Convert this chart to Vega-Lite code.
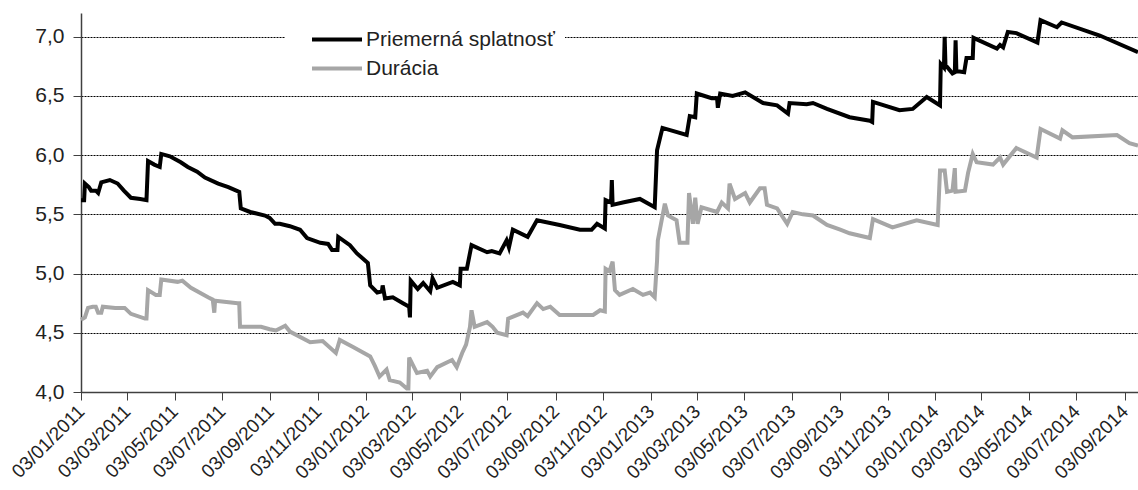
{
  "$schema": "https://vega.github.io/schema/vega-lite/v6.json",
  "width": 1057,
  "height": 379,
  "autosize": {"type": "none"},
  "padding": {"left": 81, "top": 13, "right": 0, "bottom": 98},
  "background": "white",
  "config": {
    "view": {"stroke": null},
    "font": "Liberation Sans",
    "axis": {"labelFont": "Liberation Sans", "labelColor": "#222222"},
    "legend": {"labelFont": "Liberation Sans"}
  },
  "datasets": {
    "ps": [
      {"d":"2011-01-03","v":5.62},{"d":"2011-01-07","v":5.62},{"d":"2011-01-08","v":5.76},{"d":"2011-01-13","v":5.73},
      {"d":"2011-01-16","v":5.70},{"d":"2011-01-22","v":5.70},{"d":"2011-01-25","v":5.68},{"d":"2011-01-29","v":5.77},
      {"d":"2011-02-09","v":5.79},{"d":"2011-02-19","v":5.76},{"d":"2011-02-27","v":5.70},{"d":"2011-03-08","v":5.64},
      {"d":"2011-03-20","v":5.63},{"d":"2011-03-28","v":5.62},{"d":"2011-03-30","v":5.95},{"d":"2011-04-07","v":5.92},
      {"d":"2011-04-14","v":5.90},{"d":"2011-04-16","v":6.01},{"d":"2011-04-27","v":5.99},{"d":"2011-05-11","v":5.94},
      {"d":"2011-05-20","v":5.90},{"d":"2011-06-01","v":5.86},{"d":"2011-06-11","v":5.81},{"d":"2011-06-28","v":5.76},
      {"d":"2011-07-11","v":5.73},{"d":"2011-07-25","v":5.69},{"d":"2011-07-27","v":5.55},{"d":"2011-08-08","v":5.52},
      {"d":"2011-08-27","v":5.49},{"d":"2011-09-02","v":5.47},{"d":"2011-09-09","v":5.42},{"d":"2011-09-15","v":5.42},
      {"d":"2011-09-28","v":5.40},{"d":"2011-10-11","v":5.37},{"d":"2011-10-20","v":5.30},{"d":"2011-11-06","v":5.26},
      {"d":"2011-11-16","v":5.25},{"d":"2011-11-21","v":5.20},{"d":"2011-11-28","v":5.20},{"d":"2011-11-29","v":5.31},
      {"d":"2011-12-14","v":5.24},{"d":"2011-12-23","v":5.17},{"d":"2012-01-06","v":5.09},{"d":"2012-01-09","v":4.90},
      {"d":"2012-01-18","v":4.84},{"d":"2012-01-24","v":4.85},{"d":"2012-01-25","v":4.90},{"d":"2012-01-28","v":4.79},
      {"d":"2012-02-07","v":4.80},{"d":"2012-02-20","v":4.75},{"d":"2012-02-28","v":4.72},{"d":"2012-02-29","v":4.63},
      {"d":"2012-03-01","v":4.94},{"d":"2012-03-10","v":4.87},{"d":"2012-03-17","v":4.92},{"d":"2012-03-26","v":4.85},
      {"d":"2012-03-29","v":4.96},{"d":"2012-04-04","v":4.88},{"d":"2012-04-24","v":4.93},{"d":"2012-05-03","v":4.90},
      {"d":"2012-05-04","v":5.04},{"d":"2012-05-12","v":5.04},{"d":"2012-05-18","v":5.24},{"d":"2012-06-07","v":5.18},
      {"d":"2012-06-13","v":5.19},{"d":"2012-06-23","v":5.17},{"d":"2012-07-02","v":5.28},{"d":"2012-07-05","v":5.22},
      {"d":"2012-07-10","v":5.37},{"d":"2012-07-29","v":5.31},{"d":"2012-08-10","v":5.45},{"d":"2012-09-08","v":5.41},
      {"d":"2012-10-04","v":5.37},{"d":"2012-10-19","v":5.37},{"d":"2012-10-26","v":5.42},{"d":"2012-11-05","v":5.38},
      {"d":"2012-11-06","v":5.62},{"d":"2012-11-13","v":5.60},{"d":"2012-11-14","v":5.79},{"d":"2012-11-15","v":5.58},
      {"d":"2012-11-28","v":5.60},{"d":"2012-12-20","v":5.63},{"d":"2013-01-08","v":5.56},{"d":"2013-01-11","v":6.04},
      {"d":"2013-01-15","v":6.15},{"d":"2013-01-18","v":6.23},{"d":"2013-02-18","v":6.17},{"d":"2013-02-22","v":6.33},
      {"d":"2013-03-01","v":6.32},{"d":"2013-03-03","v":6.52},{"d":"2013-03-22","v":6.48},{"d":"2013-03-29","v":6.48},
      {"d":"2013-03-30","v":6.40},{"d":"2013-04-02","v":6.52},{"d":"2013-04-18","v":6.50},{"d":"2013-05-04","v":6.53},
      {"d":"2013-05-27","v":6.44},{"d":"2013-06-14","v":6.42},{"d":"2013-06-28","v":6.35},{"d":"2013-06-30","v":6.44},
      {"d":"2013-07-22","v":6.43},{"d":"2013-07-30","v":6.44},{"d":"2013-08-17","v":6.39},{"d":"2013-09-15","v":6.32},
      {"d":"2013-10-11","v":6.29},{"d":"2013-10-14","v":6.28},{"d":"2013-10-15","v":6.45},{"d":"2013-11-18","v":6.38},
      {"d":"2013-12-05","v":6.39},{"d":"2013-12-23","v":6.49},{"d":"2014-01-09","v":6.42},{"d":"2014-01-10","v":6.77},
      {"d":"2014-01-14","v":6.74},{"d":"2014-01-15","v":7.00},{"d":"2014-01-16","v":6.76},{"d":"2014-01-25","v":6.69},
      {"d":"2014-01-28","v":6.70},{"d":"2014-01-29","v":6.97},{"d":"2014-01-30","v":6.71},{"d":"2014-02-09","v":6.70},
      {"d":"2014-02-12","v":6.82},{"d":"2014-02-20","v":6.82},{"d":"2014-02-21","v":6.99},{"d":"2014-03-23","v":6.90},
      {"d":"2014-03-27","v":6.93},{"d":"2014-03-31","v":6.91},{"d":"2014-04-06","v":7.04},{"d":"2014-04-17","v":7.03},
      {"d":"2014-05-14","v":6.95},{"d":"2014-05-18","v":7.14},{"d":"2014-06-08","v":7.08},{"d":"2014-06-14","v":7.12},
      {"d":"2014-08-02","v":7.01},{"d":"2014-09-20","v":6.87}
    ],
    "du": [
      {"d":"2011-01-03","v":4.61},{"d":"2011-01-08","v":4.63},{"d":"2011-01-12","v":4.71},{"d":"2011-01-18","v":4.72},
      {"d":"2011-01-22","v":4.72},{"d":"2011-01-25","v":4.67},{"d":"2011-01-29","v":4.67},{"d":"2011-01-31","v":4.72},
      {"d":"2011-02-16","v":4.71},{"d":"2011-02-28","v":4.71},{"d":"2011-03-08","v":4.66},{"d":"2011-03-26","v":4.62},
      {"d":"2011-03-28","v":4.62},{"d":"2011-03-30","v":4.86},{"d":"2011-04-09","v":4.82},{"d":"2011-04-14","v":4.82},
      {"d":"2011-04-16","v":4.95},{"d":"2011-05-07","v":4.93},{"d":"2011-05-13","v":4.94},{"d":"2011-05-24","v":4.88},
      {"d":"2011-06-15","v":4.80},{"d":"2011-06-21","v":4.78},{"d":"2011-06-23","v":4.67},{"d":"2011-06-24","v":4.77},
      {"d":"2011-07-23","v":4.75},{"d":"2011-07-25","v":4.75},{"d":"2011-07-26","v":4.55},{"d":"2011-08-22","v":4.55},
      {"d":"2011-09-02","v":4.53},{"d":"2011-09-10","v":4.52},{"d":"2011-09-22","v":4.56},{"d":"2011-09-28","v":4.51},
      {"d":"2011-10-24","v":4.42},{"d":"2011-11-09","v":4.43},{"d":"2011-11-26","v":4.33},{"d":"2011-12-01","v":4.44},
      {"d":"2011-12-18","v":4.38},{"d":"2012-01-09","v":4.30},{"d":"2012-01-15","v":4.22},{"d":"2012-01-21","v":4.13},
      {"d":"2012-01-30","v":4.19},{"d":"2012-02-03","v":4.10},{"d":"2012-02-16","v":4.08},{"d":"2012-02-25","v":4.03},
      {"d":"2012-02-27","v":4.03},{"d":"2012-02-28","v":4.29},{"d":"2012-03-09","v":4.16},{"d":"2012-03-22","v":4.18},
      {"d":"2012-03-26","v":4.13},{"d":"2012-04-04","v":4.21},{"d":"2012-04-23","v":4.27},{"d":"2012-04-29","v":4.21},
      {"d":"2012-05-06","v":4.33},{"d":"2012-05-11","v":4.40},{"d":"2012-05-16","v":4.55},{"d":"2012-05-18","v":4.69},
      {"d":"2012-05-22","v":4.55},{"d":"2012-06-07","v":4.59},{"d":"2012-06-14","v":4.55},{"d":"2012-06-20","v":4.50},
      {"d":"2012-07-02","v":4.48},{"d":"2012-07-04","v":4.62},{"d":"2012-07-23","v":4.67},{"d":"2012-07-29","v":4.64},
      {"d":"2012-08-10","v":4.75},{"d":"2012-08-18","v":4.70},{"d":"2012-08-27","v":4.72},{"d":"2012-09-08","v":4.65},
      {"d":"2012-10-21","v":4.65},{"d":"2012-10-30","v":4.69},{"d":"2012-11-05","v":4.68},{"d":"2012-11-06","v":5.04},
      {"d":"2012-11-11","v":5.02},{"d":"2012-11-15","v":5.10},{"d":"2012-11-18","v":4.86},{"d":"2012-11-24","v":4.82},
      {"d":"2012-12-11","v":4.87},{"d":"2012-12-24","v":4.82},{"d":"2013-01-02","v":4.84},{"d":"2013-01-08","v":4.80},
      {"d":"2013-01-11","v":5.11},{"d":"2013-01-12","v":5.28},{"d":"2013-01-21","v":5.59},{"d":"2013-01-25","v":5.49},
      {"d":"2013-02-05","v":5.45},{"d":"2013-02-09","v":5.26},{"d":"2013-02-19","v":5.26},{"d":"2013-02-21","v":5.68},
      {"d":"2013-02-26","v":5.42},{"d":"2013-03-01","v":5.64},{"d":"2013-03-04","v":5.42},{"d":"2013-03-09","v":5.56},
      {"d":"2013-03-29","v":5.52},{"d":"2013-04-04","v":5.60},{"d":"2013-04-12","v":5.55},{"d":"2013-04-14","v":5.76},
      {"d":"2013-04-21","v":5.63},{"d":"2013-05-04","v":5.68},{"d":"2013-05-10","v":5.60},{"d":"2013-05-23","v":5.72},
      {"d":"2013-05-29","v":5.72},{"d":"2013-06-01","v":5.58},{"d":"2013-06-14","v":5.55},{"d":"2013-06-27","v":5.42},
      {"d":"2013-07-04","v":5.52},{"d":"2013-07-17","v":5.50},{"d":"2013-07-30","v":5.49},{"d":"2013-08-17","v":5.41},
      {"d":"2013-09-03","v":5.37},{"d":"2013-09-15","v":5.34},{"d":"2013-10-11","v":5.30},{"d":"2013-10-15","v":5.46},
      {"d":"2013-11-09","v":5.39},{"d":"2013-12-10","v":5.45},{"d":"2014-01-06","v":5.41},{"d":"2014-01-09","v":5.87},
      {"d":"2014-01-15","v":5.87},{"d":"2014-01-18","v":5.69},{"d":"2014-01-25","v":5.70},{"d":"2014-01-28","v":5.89},
      {"d":"2014-01-29","v":5.69},{"d":"2014-02-10","v":5.70},{"d":"2014-02-14","v":5.85},{"d":"2014-02-20","v":6.01},
      {"d":"2014-02-25","v":5.94},{"d":"2014-03-18","v":5.92},{"d":"2014-03-27","v":5.98},{"d":"2014-03-31","v":5.92},
      {"d":"2014-04-17","v":6.06},{"d":"2014-05-13","v":5.98},{"d":"2014-05-18","v":6.22},{"d":"2014-06-12","v":6.14},
      {"d":"2014-06-15","v":6.21},{"d":"2014-06-28","v":6.15},{"d":"2014-08-24","v":6.17},{"d":"2014-09-09","v":6.10},
      {"d":"2014-09-20","v":6.08}
    ]
  },
  "encoding": {
    "x": {
      "field": "d", "type": "temporal",
      "scale": {"type": "utc", "domain": [{"year":2011,"month":1,"date":3,"utc":true},{"year":2014,"month":9,"date":20,"utc":true}]},
      "axis": {
        "title": null,
        "format": "%d/%m/%Y",
        "values": [
          {"year":2011,"month":1,"date":3,"utc":true},{"year":2011,"month":3,"date":3,"utc":true},{"year":2011,"month":5,"date":3,"utc":true},
          {"year":2011,"month":7,"date":3,"utc":true},{"year":2011,"month":9,"date":3,"utc":true},{"year":2011,"month":11,"date":3,"utc":true},
          {"year":2012,"month":1,"date":3,"utc":true},{"year":2012,"month":3,"date":3,"utc":true},{"year":2012,"month":5,"date":3,"utc":true},
          {"year":2012,"month":7,"date":3,"utc":true},{"year":2012,"month":9,"date":3,"utc":true},{"year":2012,"month":11,"date":3,"utc":true},
          {"year":2013,"month":1,"date":3,"utc":true},{"year":2013,"month":3,"date":3,"utc":true},{"year":2013,"month":5,"date":3,"utc":true},
          {"year":2013,"month":7,"date":3,"utc":true},{"year":2013,"month":9,"date":3,"utc":true},{"year":2013,"month":11,"date":3,"utc":true},
          {"year":2014,"month":1,"date":3,"utc":true},{"year":2014,"month":3,"date":3,"utc":true},{"year":2014,"month":5,"date":3,"utc":true},
          {"year":2014,"month":7,"date":3,"utc":true},{"year":2014,"month":9,"date":3,"utc":true}
        ],
        "labelAngle": -45,
        "labelAlign": "right",
        "labelBaseline": "middle",
        "labelFontSize": 19,
        "labelPadding": 8,
        "labelOverlap": false,
        "labelFlush": false,
        "tickSize": 8,
        "tickColor": "#404040",
        "domainColor": "#404040",
        "domainWidth": 1.5,
        "grid": false
      }
    },
    "y": {
      "field": "v", "type": "quantitative",
      "scale": {"domain": [4, 7.2], "nice": false, "zero": false},
      "axis": {
        "title": null,
        "values": [4, 4.5, 5, 5.5, 6, 6.5, 7],
        "labelExpr": "replace(format(datum.value, '.1f'), '.', ',')",
        "labelFontSize": 21,
        "labelPadding": 9,
        "tickSize": 8,
        "tickColor": "#404040",
        "domainColor": "#404040",
        "domainWidth": 1.5,
        "grid": true,
        "gridColor": "#000000",
        "gridDash": [2, 1],
        "gridWidth": 1
      }
    }
  },
  "layer": [
    {
      "data": {"name": "ps"},
      "mark": {"type": "line", "strokeWidth": 4, "interpolate": "linear"},
      "encoding": {
        "color": {
          "datum": "Priemerná splatnosť",
          "type": "nominal",
          "scale": {"domain": ["Priemerná splatnosť", "Durácia"], "range": ["#000000", "#a6a6a6"]},
          "legend": {
            "title": null,
            "orient": "none",
            "legendX": 204,
            "legendY": 4,
            "fillColor": "white",
            "padding": 10,
            "symbolType": "stroke",
            "symbolSize": 2500,
            "symbolStrokeWidth": 4,
            "symbolOffset": 15,
            "clipHeight": 25,
            "labelFontSize": 21,
            "labelLimit": 0,
            "labelColor": "#222222",
            "labelOffset": 2,
            "rowPadding": 4
          }
        }
      }
    },
    {
      "data": {"name": "du"},
      "mark": {"type": "line", "strokeWidth": 4, "interpolate": "linear"},
      "encoding": {
        "color": {"datum": "Durácia", "type": "nominal"}
      }
    }
  ]
}
